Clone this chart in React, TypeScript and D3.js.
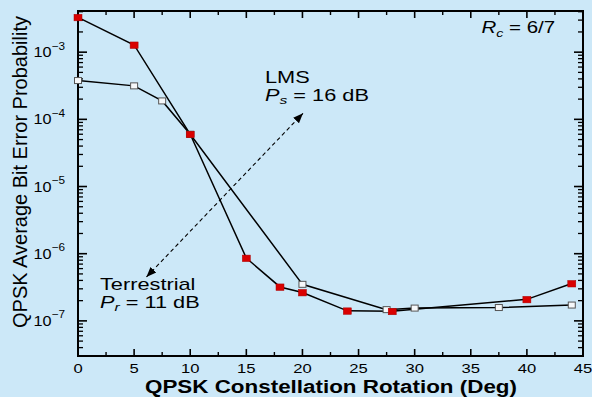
import React from "react";
import * as d3 from "d3";

const W = 592;
const H = 397;

// Terrestrial (red filled squares)
const redX = [0, 5, 10, 15, 18, 20, 24, 28, 40, 44];
const redY = [3.3e-3, 1.28e-3, 6.0e-5, 8.6e-7, 3.2e-7, 2.65e-7, 1.41e-7, 1.39e-7, 2.09e-7, 3.6e-7];

// LMS (open squares)
const openX = [0, 5, 7.5, 10, 20, 27.5, 30, 37.5, 44];
const openY = [3.78e-4, 3.15e-4, 1.88e-4, 6.0e-5, 3.5e-7, 1.47e-7, 1.55e-7, 1.58e-7, 1.72e-7];

const xMajorTicks = [0, 5, 10, 15, 20, 25, 30, 35, 40, 45];
const xMinorTicks = [2.5, 7.5, 12.5, 17.5, 22.5, 27.5, 32.5, 37.5, 42.5];
const yMajorExps = [-7, -6, -5, -4, -3];

// annotation arrow ends, in data units
const arrowX = [6.1, 20.05];
const arrowY = [4.5e-7, 1.23e-4];

const FONT = "'Liberation Sans', Arial, Helvetica, sans-serif";
const SX = 1.28;

export default function App() {
  const left = 78, right = 583, top = 11, bottom = 356;
  const x = d3.scaleLinear().domain([0, 45]).range([left, right]);
  const y = d3.scaleLog().domain([3e-8, 4.1e-3]).range([bottom, top]);

  const yMinor: number[] = [];
  for (let e = -8; e <= -3; e++) {
    for (let m = 2; m <= 9; m++) {
      const v = m * Math.pow(10, e);
      if (v >= 3e-8 && v <= 4.1e-3) yMinor.push(v);
    }
  }

  const line = d3
    .line<[number, number]>()
    .x((d) => x(d[0]))
    .y((d) => y(d[1]));

  const redPts: [number, number][] = redX.map((v, i) => [v, redY[i]]);
  const openPts: [number, number][] = openX.map((v, i) => [v, openY[i]]);

  const ax1 = x(arrowX[0]), ay1 = y(arrowY[0]);
  const ax2 = x(arrowX[1]), ay2 = y(arrowY[1]);

  const stretched = (tx: number, ty: number, content: React.ReactNode, size: number, sx: number = SX) => (
    <g transform={`translate(${tx},${ty}) scale(${sx},1)`}>
      <text x={0} y={0} fontSize={size} fontFamily={FONT} fill="#000">
        {content}
      </text>
    </g>
  );

  return (
    <svg
      width={W}
      height={H}
      style={{ position: "fixed", left: 0, top: 0, display: "block" }}
    >
      <defs>
        <marker
          id="ah"
          viewBox="0 0 10 10"
          refX={10}
          refY={5}
          markerWidth={10}
          markerHeight={10}
          markerUnits="userSpaceOnUse"
          orient="auto-start-reverse"
        >
          <path d="M0,1 L10,5 L0,9 Z" fill="#000" />
        </marker>
      </defs>
      <rect x={0} y={0} width={W} height={H} fill="#cce8f8" />

      {/* x ticks */}
      {xMajorTicks.map((t) => (
        <g key={"xm" + t}>
          <line x1={x(t)} x2={x(t)} y1={bottom} y2={bottom - 7} stroke="#000" strokeWidth={1.6} />
          <line x1={x(t)} x2={x(t)} y1={top} y2={top + 7} stroke="#000" strokeWidth={1.6} />
          <g transform={`translate(${x(t)},${372.5}) scale(1.26,1)`}>
            <text x={0} y={0} textAnchor="middle" fontSize={13.2} fontFamily={FONT} fill="#000">
              {t}
            </text>
          </g>
        </g>
      ))}
      {xMinorTicks.map((t) => (
        <g key={"xn" + t}>
          <line x1={x(t)} x2={x(t)} y1={bottom} y2={bottom - 4} stroke="#000" strokeWidth={1.4} />
          <line x1={x(t)} x2={x(t)} y1={top} y2={top + 4} stroke="#000" strokeWidth={1.4} />
        </g>
      ))}

      {/* y ticks */}
      {yMajorExps.map((e) => {
        const v = Math.pow(10, e);
        const yy = y(v);
        return (
          <g key={"ym" + e}>
            <line x1={left} x2={left + 9} y1={yy} y2={yy} stroke="#000" strokeWidth={1.6} />
            <line x1={right} x2={right - 9} y1={yy} y2={yy} stroke="#000" strokeWidth={1.6} />
            <g transform={`translate(${65},${yy + 5}) scale(1.12,1)`}>
              <text x={0} y={0} textAnchor="end" fontSize={14.5} fontFamily={FONT} fill="#000">
                10
                <tspan dy={-7.5} fontSize={10.5}>
                  {"\u2212" + Math.abs(e)}
                </tspan>
              </text>
            </g>
          </g>
        );
      })}
      {yMinor.map((v, i) => (
        <g key={"yn" + i}>
          <line x1={left} x2={left + 5} y1={y(v)} y2={y(v)} stroke="#000" strokeWidth={1.3} />
          <line x1={right} x2={right - 5} y1={y(v)} y2={y(v)} stroke="#000" strokeWidth={1.3} />
        </g>
      ))}

      {/* frame */}
      <rect x={left} y={top} width={right - left} height={bottom - top} fill="none" stroke="#000" strokeWidth={2} />

      {/* annotation arrow */}
      <line
        x1={ax1}
        y1={ay1}
        x2={ax2}
        y2={ay2}
        stroke="#000"
        strokeWidth={1.1}
        strokeDasharray="4,3"
        markerStart="url(#ah)"
        markerEnd="url(#ah)"
      />

      {/* series lines */}
      <path d={line(openPts) || ""} fill="none" stroke="#000" strokeWidth={1.5} />
      <path d={line(redPts) || ""} fill="none" stroke="#000" strokeWidth={1.5} />

      {openPts.map((p, i) => (
        <rect
          key={"o" + i}
          x={x(p[0]) - 3.5}
          y={y(p[1]) - 3}
          width={7}
          height={6}
          fill="#f6f8fa"
          stroke="#555"
          strokeWidth={1}
        />
      ))}
      {redPts.map((p, i) => (
        <rect
          key={"r" + i}
          x={x(p[0]) - 4}
          y={y(p[1]) - 3}
          width={8}
          height={6.5}
          fill="#d90000"
          stroke="#a00"
          strokeWidth={0.5}
        />
      ))}

      {/* annotations */}
      {stretched(265, 82.5, "LMS", 16, 1.36)}
      {stretched(
        265,
        100.5,
        <>
          <tspan fontStyle="italic">P</tspan>
          <tspan fontStyle="italic" fontSize={11.5} dy={3.5}>s</tspan>
          <tspan dy={-3.5}>{" = 16 dB"}</tspan>
        </>,
        16,
        1.36
      )}
      {stretched(100, 289.5, "Terrestrial", 16, 1.36)}
      {stretched(
        100,
        307.5,
        <>
          <tspan fontStyle="italic">P</tspan>
          <tspan fontStyle="italic" fontSize={11.5} dy={3.5}>r</tspan>
          <tspan dy={-3.5}>{" = 11 dB"}</tspan>
        </>,
        16,
        1.36
      )}
      {stretched(
        481.5,
        33.3,
        <>
          <tspan fontStyle="italic">R</tspan>
          <tspan fontStyle="italic" fontSize={11} dy={4}>c</tspan>
          <tspan dy={-4}>{" = 6/7"}</tspan>
        </>,
        16
      )}

      {/* axis titles */}
      <text
        x={331}
        y={392.5}
        textAnchor="middle"
        fontSize={18}
        fontWeight="bold"
        fontFamily={FONT}
        fill="#000"
        textLength={372}
        lengthAdjust="spacingAndGlyphs"
      >
        QPSK Constellation Rotation (Deg)
      </text>
      <g transform={`translate(${27},${172}) rotate(-90) scale(1,1.2)`}>
        <text
          x={0}
          y={0}
          textAnchor="middle"
          fontSize={17.5}
          fontFamily={FONT}
          fill="#000"
          textLength={312}
          lengthAdjust="spacingAndGlyphs"
        >
          QPSK Average Bit Error Probability
        </text>
      </g>
    </svg>
  );
}
